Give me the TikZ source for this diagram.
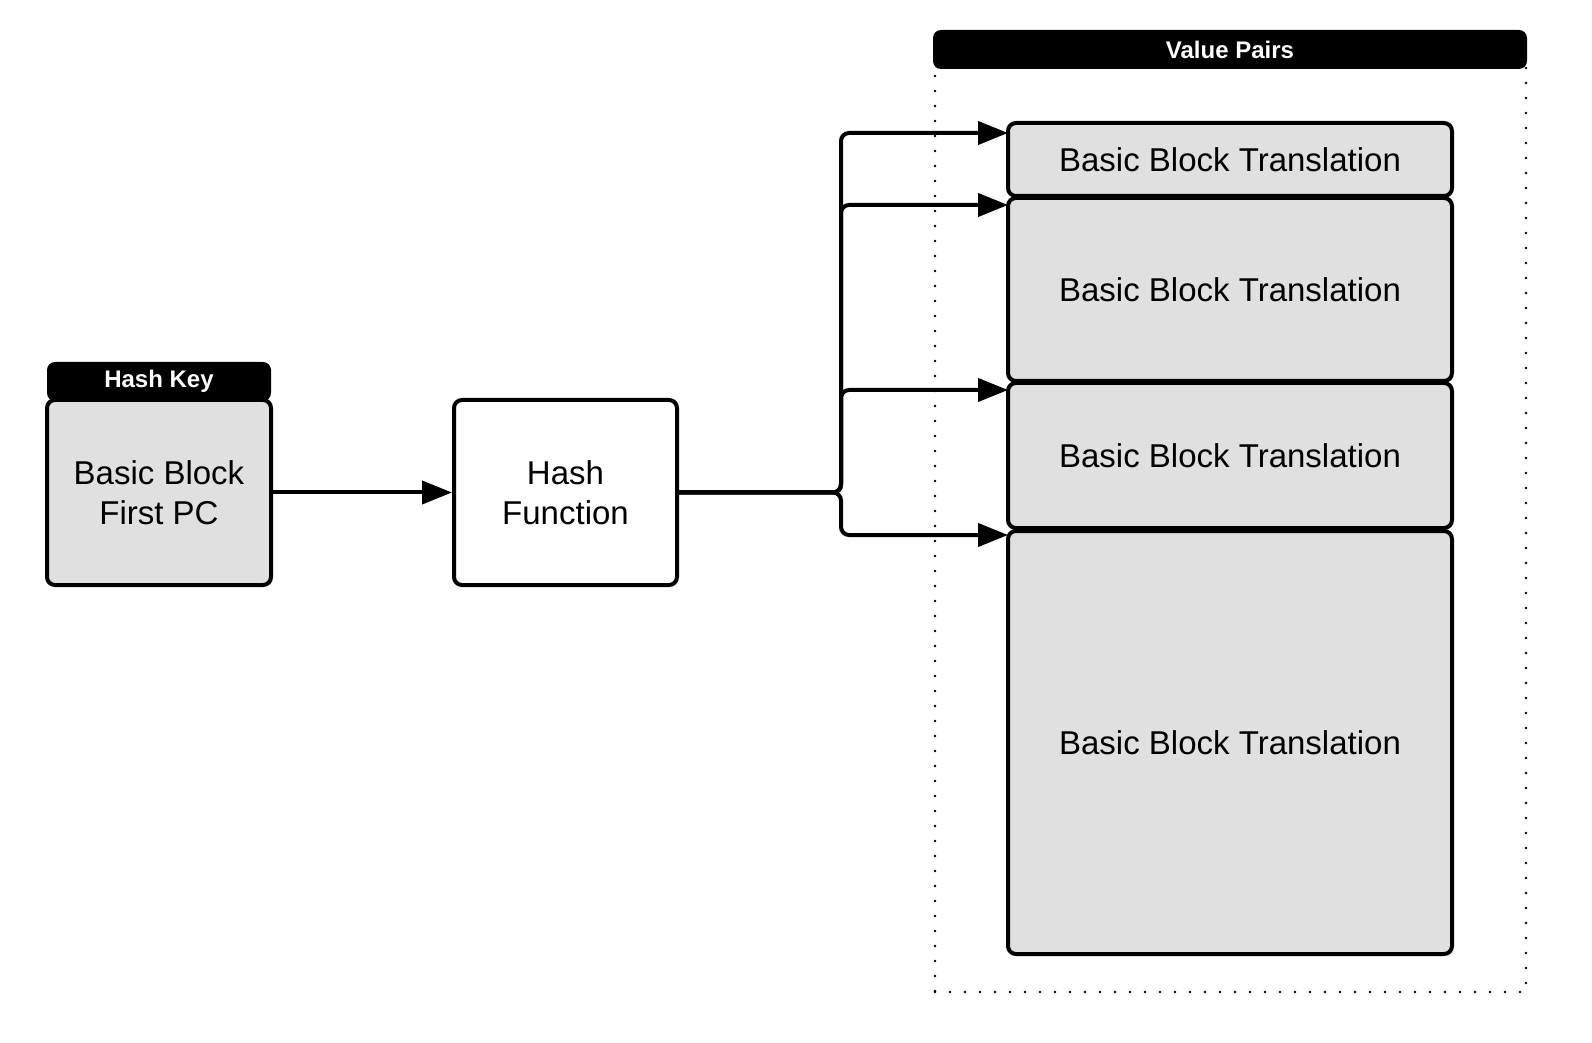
\documentclass[tikz,border=0pt]{standalone}
\usepackage{fontspec}
\setmainfont{Liberation Sans}
\usetikzlibrary{arrows.meta}
\definecolor{boxgray}{HTML}{E0E0E0}
\begin{document}
\begin{tikzpicture}[x=0.5pt,y=-0.5pt,
  box/.style={draw, line width=2pt, rounded corners=4pt, inner sep=0pt, align=center, font=\fontsize{16.5}{20}\selectfont},
  graybox/.style={box, fill=boxgray},
  header/.style={fill=black, rounded corners=4pt, inner sep=0pt, text=white, font=\bfseries\fontsize{12}{14}\selectfont},
  conn/.style={line width=2pt, rounded corners=4pt, -{Triangle[length=15pt,width=11.5pt]}}]
\node[draw, dash pattern=on 0pt off 7.5pt, line cap=round, line width=1.3pt, minimum width=295.5pt, minimum height=466pt] (vp) at (1230.5,526) {};
\node[header, minimum width=297pt, minimum height=19.5pt] (vph) at (1230,49.5) {Value Pairs};
\node[header, minimum width=112pt, minimum height=19.5pt] (keyh) at (159,381.5) {Hash Key};
\node[graybox, minimum width=112pt, minimum height=92.5pt] (key) at (159,492.5) {Basic Block\\First PC};
\node[box, minimum width=111.5pt, minimum height=92.5pt] (hf) at (565.5,492.5) {Hash\\Function};
\node[graybox, minimum width=222pt, minimum height=36.5pt] (b1) at (1230,159.5) {Basic Block Translation};
\node[graybox, minimum width=222pt, minimum height=91.5pt] (b2) at (1230,289.5) {Basic Block Translation};
\node[graybox, minimum width=222pt, minimum height=72.5pt] (b3) at (1230,455.5) {Basic Block Translation};
\node[graybox, minimum width=222pt, minimum height=211.5pt] (b4) at (1230,742.5) {Basic Block Translation};
\coordinate (fork) at (841,492.5);
\coordinate (in1) at (1008,133);
\coordinate (in2) at (1008,205);
\coordinate (in3) at (1008,390);
\coordinate (in4) at (1008,535);

\path[draw,conn] (key) -- (hf);
\path[draw,conn] (hf.east) -- (fork) |- (in1);
\path[draw,conn] (hf.east) -- (fork) |- (in2);
\path[draw,conn] (hf.east) -- (fork) |- (in3);
\path[draw,conn] (hf.east) -- (fork) |- (in4);

\pgfresetboundingbox
\useasboundingbox (0,0) rectangle (1592,1043);
\end{tikzpicture}
\end{document}
